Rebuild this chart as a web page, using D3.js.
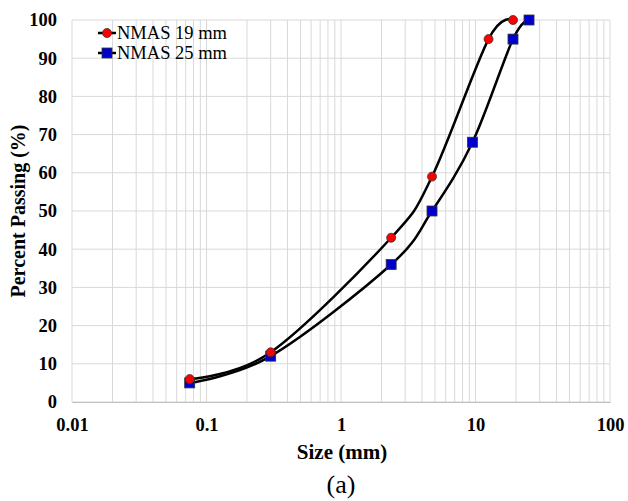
<!DOCTYPE html>
<html>
<head>
<meta charset="utf-8">
<script src="https://cdn.jsdelivr.net/npm/d3@7"></script>
<style>
  body { margin: 0; background: #fff; }
  text { font-family: "Liberation Serif", "Times New Roman", serif; }
</style>
</head>
<body>
<div id="chart"></div>
<script>
const sizes19 = [0.075, 0.3, 2.36, 4.75, 12.5, 19];
const passing19 = [6, 13, 43, 59, 95, 100];
const sizes25 = [0.075, 0.3, 2.36, 4.75, 9.5, 19, 25];
const passing25 = [5, 12, 36, 50, 68, 95, 100];
const xTicks = [0.01, 0.1, 1, 10, 100];
const yTicks = [0, 10, 20, 30, 40, 50, 60, 70, 80, 90, 100];

const W = 628, H = 501;
const m = { top: 20, right: 18, bottom: 99, left: 72 };
const innerW = W - m.left - m.right;
const innerH = H - m.top - m.bottom;

const svg = d3.select('#chart').append('svg')
  .attr('width', W).attr('height', H);
const g = svg.append('g').attr('transform', `translate(${m.left},${m.top})`);

const x = d3.scaleLog().domain([0.01, 100]).range([0, innerW]);
const y = d3.scaleLinear().domain([0, 100]).range([innerH, 0]);

// minor vertical grid (1..9 per decade)
const minor = [];
[0.01, 0.1, 1, 10].forEach(d => { for (let k = 1; k <= 9; k++) minor.push(d * k); });
minor.push(100);
g.append('g').selectAll('line').data(minor).enter().append('line')
  .attr('x1', d => x(d)).attr('x2', d => x(d))
  .attr('y1', 0).attr('y2', innerH)
  .attr('stroke', '#d9d9d9').attr('stroke-width', 1);

g.append('g').selectAll('line').data(yTicks).enter().append('line')
  .attr('x1', 0).attr('x2', innerW)
  .attr('y1', d => y(d)).attr('y2', d => y(d))
  .attr('stroke', '#d9d9d9').attr('stroke-width', 1);

// axes
const xAxis = d3.axisBottom(x).tickValues(xTicks).tickFormat(d => String(d)).tickSize(0).tickPadding(16);
const xa = g.append('g').attr('transform', `translate(0,${innerH})`).call(xAxis);
xa.select('.domain').attr('stroke', '#bfbfbf');
xa.selectAll('text').attr('font-size', 18.5).attr('font-weight', 'bold').attr('fill', '#000')
  .style('font-family', '"Liberation Serif", serif');

const yAxis = d3.axisLeft(y).tickValues(yTicks).tickSize(0).tickPadding(15);
const ya = g.append('g').call(yAxis);
ya.select('.domain').remove();
ya.selectAll('text').attr('font-size', 18.5).attr('font-weight', 'bold').attr('fill', '#000')
  .style('font-family', '"Liberation Serif", serif');

// titles
svg.append('text').attr('x', m.left + innerW / 2 + 1).attr('y', 459)
  .attr('text-anchor', 'middle').attr('font-size', 21).attr('font-weight', 'bold')
  .text('Size (mm)');
svg.append('text').attr('transform', `translate(25,${m.top + innerH / 2}) rotate(-90)`)
  .attr('text-anchor', 'middle').attr('font-size', 20).attr('font-weight', 'bold')
  .text('Percent Passing (%)');
svg.append('text').attr('x', m.left + innerW / 2).attr('y', 493)
  .attr('text-anchor', 'middle').attr('font-size', 26)
  .text('(a)');

// lines
const line = d3.line().x(d => x(d[0])).y(d => y(d[1])).curve(d3.curveCatmullRom.alpha(0));
const s19 = sizes19.map((s, i) => [s, passing19[i]]);
const s25 = sizes25.map((s, i) => [s, passing25[i]]);

[s25, s19].forEach(s => {
  g.append('path').datum(s).attr('d', line)
    .attr('fill', 'none').attr('stroke', '#000').attr('stroke-width', 2.5);
});

g.append('g').selectAll('rect').data(s25).enter().append('rect')
  .attr('x', d => x(d[0]) - 5).attr('y', d => y(d[1]) - 5)
  .attr('width', 10).attr('height', 10)
  .attr('fill', '#0000cc').attr('stroke', '#333').attr('stroke-width', 0.8);

g.append('g').selectAll('circle').data(s19).enter().append('circle')
  .attr('cx', d => x(d[0])).attr('cy', d => y(d[1])).attr('r', 4.5)
  .attr('fill', '#ff0000').attr('stroke', '#333').attr('stroke-width', 0.8);

// legend
const leg = svg.append('g').attr('transform', 'translate(98,33)');
leg.append('line').attr('x1', 0).attr('x2', 18).attr('y1', 0).attr('y2', 0)
  .attr('stroke', '#000').attr('stroke-width', 2.5);
leg.append('circle').attr('cx', 9).attr('cy', 0).attr('r', 4.5)
  .attr('fill', '#ff0000').attr('stroke', '#333').attr('stroke-width', 0.8);
leg.append('text').attr('x', 19).attr('y', 6).attr('font-size', 18.5).text('NMAS 19 mm');
leg.append('line').attr('x1', 0).attr('x2', 18).attr('y1', 20).attr('y2', 20)
  .attr('stroke', '#000').attr('stroke-width', 2.5);
leg.append('rect').attr('x', 4).attr('y', 15).attr('width', 10).attr('height', 10)
  .attr('fill', '#0000cc').attr('stroke', '#333').attr('stroke-width', 0.8);
leg.append('text').attr('x', 19).attr('y', 26).attr('font-size', 18.5).text('NMAS 25 mm');
</script>
</body>
</html>
